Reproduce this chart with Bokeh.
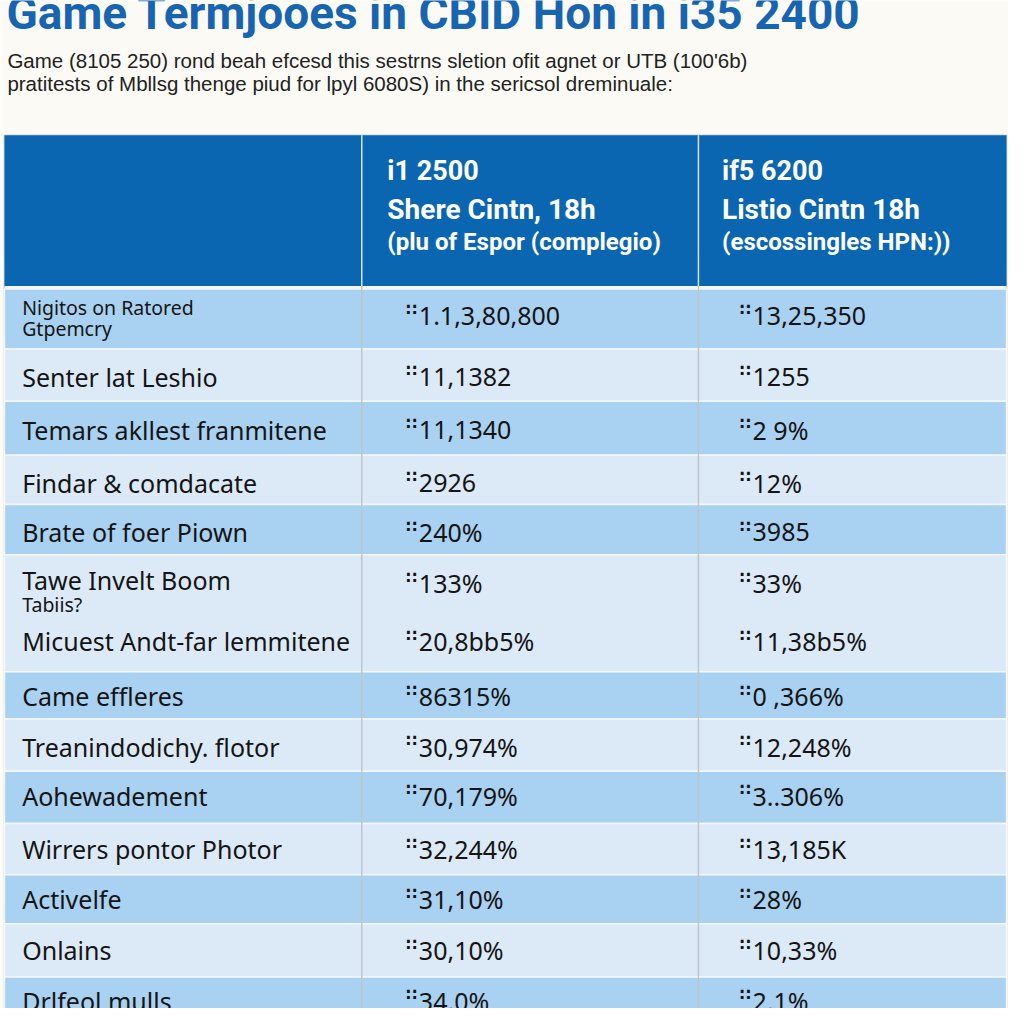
from bokeh.plotting import figure
from bokeh.models import Range1d, ColumnDataSource
from bokeh.core.properties import value
from bokeh.embed import file_html
from bokeh.resources import INLINE

# ---------------- data ----------------
title = "Game Termjooes in CBID Hon in i35 2400"
subtitle = [
    "Game (8105 250) rond beah efcesd this sestrns sletion ofit agnet or UTB (100'6b)",
    "pratitests of Mbllsg thenge piud for lpyl 6080S) in the sericsol dreminuale:",
]
col2_header = ["i1 2500", "Shere Cintn, 18h", "(plu of Espor (complegio)"]
col3_header = ["if5 6200", "Listio Cintn 18h", "(escossingles HPN:))"]

row_labels = [
    "Nigitos on Ratored", "Senter lat Leshio", "Temars akllest franmitene",
    "Findar & comdacate", "Brate of foer Piown", "Tawe Invelt Boom",
    "Micuest Andt-far lemmitene", "Came effleres", "Treanindodichy. flotor",
    "Aohewadement", "Wirrers pontor Photor", "Activelfe", "Onlains", "Drlfeol mulls",
]
row_sublabels = ["Gtpemcry", "", "", "", "", "Tabiis?", "", "", "", "", "", "", "", ""]
col2_values = [
    "1.1,3,80,800", "11,1382", "11,1340", "2926", "240%", "133%", "20,8bb5%",
    "86315%", "30,974%", "70,179%", "32,244%", "31,10%", "30,10%", "34,0%",
]
col3_values = [
    "13,25,350", "1255", "2 9%", "12%", "3985", "33%", "11,38b5%",
    "0 ,366%", "12,248%", "3..306%", "13,185K", "28%", "10,33%", "2,1%",
]
marker = "\u2237"

# ---------------- layout (pixel space of the reference picture) ----------------
W = 1008
tab_l, tab_r = 4, 1022
col_x = [4, 367, 709, 1022]
head_top, head_bot = 137, 290
band_edges = [293, 354, 407, 462, 512, 563, 682, 730, 783, 836, 888, 938, 992, 1040]
entry_y = [312, 382, 436, 490, 540, 589, 651, 707, 758, 808, 862, 913, 965, 1016]
value_y = [320, 382, 436, 490, 540, 592, 651, 707, 758, 808, 862, 913, 965, 1016]
label_x = 22
val_x = [413, 752]
head_x = [393, 733]

BG = "#fcfaf4"
HEAD = "#0b66b1"
DARK = "#a9d1f2"
LIGHT = "#dceaf8"
TXT = "#141414"

p = figure(width=W, height=W, x_range=Range1d(0, 1024), y_range=Range1d(1024, 0),
           output_backend="svg", toolbar_location=None, min_border=0,
           background_fill_color=BG, border_fill_color=BG, outline_line_color=None)
p.axis.visible = False
p.grid.visible = False

# table base
p.quad(left=[tab_l], right=[tab_r], top=[head_top], bottom=[1040],
       fill_color="#f3f7fb", line_color="#c9d3dc", line_width=1.5)
# header band
p.quad(left=[tab_l], right=[tab_r], top=[head_top], bottom=[head_bot],
       fill_color=HEAD, line_color=None)

# body bands
tops = band_edges[:-1]
bots = band_edges[1:]
colors = [DARK if i % 2 == 0 else LIGHT for i in range(len(tops))]
p.quad(left=[tab_l] * len(tops), right=[tab_r] * len(tops), top=tops, bottom=bots,
       fill_color=colors, line_color="#f4f8fc", line_width=1.5)

# column dividers
p.segment(x0=col_x[1:3], x1=col_x[1:3], y0=[head_top] * 2, y1=[head_bot] * 2,
          line_color="#d6e6f5", line_width=1.5)
p.segment(x0=col_x[1:3], x1=col_x[1:3], y0=[head_bot] * 2, y1=[1040] * 2,
          line_color="#bcc6cf", line_width=1.5)

# title & subtitle
p.text(x=[6], y=[13], text=[title], text_font=value("Roboto"), text_font_style="bold",
       text_font_size="46px", text_color="#1765b0", text_baseline="middle", text_align="left")
p.text(x=[7, 7], y=[61, 84], text=subtitle, text_font=value("Liberation Sans"),
       text_font_size="20.5px", text_color="#222222", text_baseline="middle", text_align="left")

# header texts
hy = [173, 212, 245]
hs = ["27px", "28px", "24px"]
for cx, lines in zip(head_x, (col2_header, col3_header)):
    for t, yy, fs in zip(lines, hy, hs):
        p.text(x=[cx], y=[yy], text=[t], text_font=value("Roboto"), text_font_style="bold",
               text_font_size=fs, text_color="white", text_baseline="middle", text_align="left")

# row labels
main_size = ["19.5px" if i == 0 else "25px" for i in range(len(row_labels))]
src = ColumnDataSource(dict(x=[label_x] * len(row_labels), y=entry_y, t=row_labels, fs=main_size))
p.text(x="x", y="y", text="t", text_font_size="fs", source=src, text_font=value("Noto Sans"),
       text_color=TXT, text_baseline="middle", text_align="left")
sub_idx = [i for i, s in enumerate(row_sublabels) if s]
p.text(x=[label_x] * len(sub_idx), y=[entry_y[i] + (21 if i == 0 else 25) for i in sub_idx],
       text=[row_sublabels[i] for i in sub_idx], text_font=value("Noto Sans"),
       text_font_size="19.5px", text_color=TXT, text_baseline="middle", text_align="left")

# values
for mx, vals in zip(val_x, (col2_values, col3_values)):
    n = len(vals)
    p.text(x=[mx - 1] * n, y=[v - 6 for v in value_y], text=[marker] * n,
           text_font=value("DejaVu Sans"), text_font_style="bold", text_font_size="16px",
           text_color=TXT, text_baseline="middle", text_align="left")
    p.text(x=[mx + 12] * n, y=value_y, text=vals, text_font=value("Noto Sans"),
           text_font_size="25px", text_color=TXT, text_baseline="middle", text_align="left")

open("out.html", "w").write(file_html(p, INLINE))
